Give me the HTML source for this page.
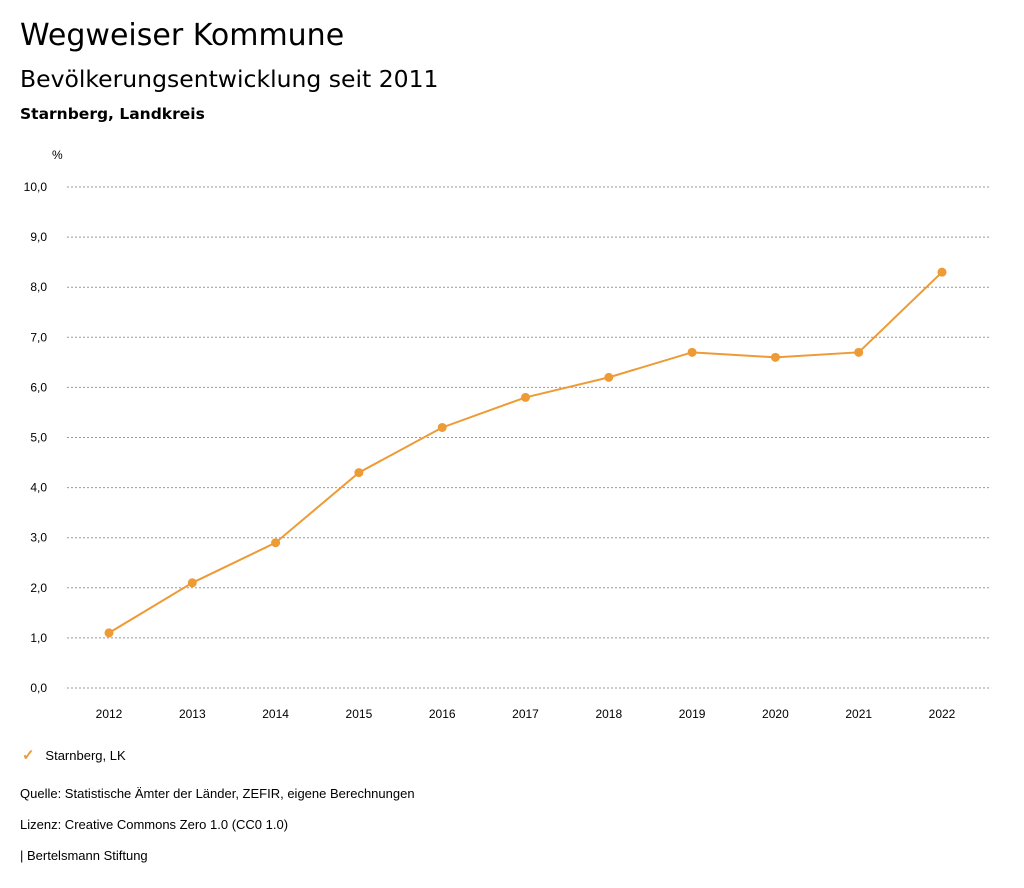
<!DOCTYPE html>
<html><head><meta charset="utf-8"><style>
body{margin:0;width:1024px;height:888px;background:#fff;font-family:"Liberation Sans",sans-serif;color:#000;position:relative;overflow:hidden}
.t{position:absolute;white-space:nowrap}
.d{font-family:"DejaVu Sans",sans-serif}
</style></head><body>
<div class="t d" style="left:20px;top:18px;font-size:30px">Wegweiser Kommune</div>
<div class="t d" style="left:20px;top:65px;font-size:23.5px">Bevölkerungsentwicklung seit 2011</div>
<div class="t d" style="left:20px;top:105px;font-size:15.5px;font-weight:bold">Starnberg, Landkreis</div>
<svg id="chart" width="1024" height="740" style="position:absolute;left:0;top:0"></svg>
<div class="t" style="left:22px;top:746px;font-size:13px"><span style="color:#EE9A35;font-size:15px;font-weight:bold">✓</span>&nbsp;&nbsp;&nbsp;Starnberg, LK</div>
<div class="t" style="left:20px;top:786px;font-size:13px">Quelle: Statistische Ämter der Länder, ZEFIR, eigene Berechnungen</div>
<div class="t" style="left:20px;top:817px;font-size:13px">Lizenz: Creative Commons Zero 1.0 (CC0 1.0)</div>
<div class="t" style="left:20px;top:848px;font-size:13px">| Bertelsmann Stiftung</div>
<script>
const years=["2012","2013","2014","2015","2016","2017","2018","2019","2020","2021","2022"];
const values=[1.1,2.1,2.9,4.3,5.2,5.8,6.2,6.7,6.6,6.7,8.3];
const yTicks=[0,1,2,3,4,5,6,7,8,9,10];
const NS="http://www.w3.org/2000/svg";
const svg=document.getElementById('chart');
const y=v=>688-v*50.1;
const x=i=>109+i*83.3;
function mk(t,a){const e=document.createElementNS(NS,t);for(const k in a)e.setAttribute(k,a[k]);svg.appendChild(e);return e;}
const pu=mk('text',{x:52,y:159,'font-size':12});pu.textContent='%';


yTicks.forEach(v=>{
 const g=mk('line',{x1:67,x2:990,y1:y(v),y2:y(v),stroke:'#999','stroke-dasharray':'2,2','stroke-width':1});
 
 
 const t=mk('text',{x:47,y:y(v)+4,'font-size':12,'text-anchor':'end'});
 t.textContent=v.toFixed(1).replace('.',',');
 
 
});
years.forEach((yr,i)=>{
 const t=mk('text',{x:x(i),y:718,'font-size':12,'text-anchor':'middle'});
 t.textContent=yr;
 
 
});
const p=mk('polyline',{points:values.map((v,i)=>x(i)+','+y(v)).join(' '),fill:'none',stroke:'#EE9A35','stroke-width':2});


values.forEach((v,i)=>{
 const c=mk('circle',{cx:x(i),cy:y(v),r:4.5,fill:'#EE9A35'});
 
 
});
</script>
</body></html>
